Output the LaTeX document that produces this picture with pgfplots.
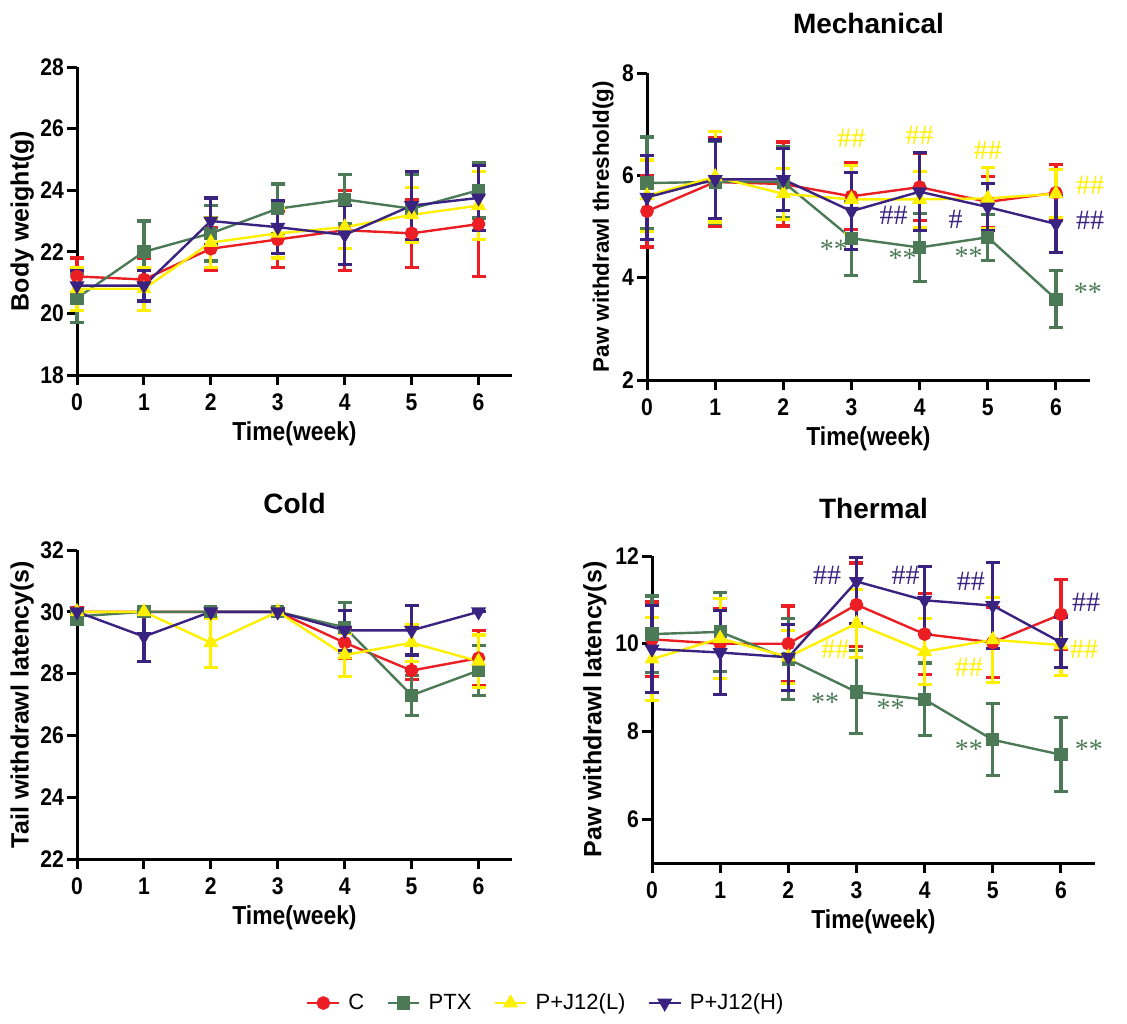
\documentclass[border=0pt]{standalone}
\usepackage{pgfplots}
\pgfplotsset{compat=1.18}
\usepackage{fontspec}
\setmainfont{Liberation Sans}
\newfontfamily\condfont[FakeStretch=0.88]{Liberation Sans}
\newfontfamily\annfont{Liberation Serif}

\definecolor{cC}{RGB}{235,30,36}
\definecolor{cP}{RGB}{76,122,86}
\definecolor{cL}{RGB}{255,240,0}
\definecolor{cH}{RGB}{58,34,128}

\tikzset{
  hash/.style={font=\annfont\fontsize{14}{15}\selectfont},
  star/.style={font=\annfont\fontsize{14}{15}\selectfont},
}

\pgfplotsset{
  gp/.style={
    scale only axis, clip=false,
    axis x line*=bottom, axis y line*=left,
    x axis line style={-}, y axis line style={-},
    axis line style={line width=1.5pt},
    xmin=0, xmax=6.5, xtick={0,...,6},
    tick align=outside, major tick length=5pt,
    tick style={line width=1.5pt, black},
    /pgf/number format/assume math mode=true,
    tick label style={font=\condfont\fontsize{12}{14}\selectfont\bfseries},
    xticklabel style={yshift=-1pt},
    yticklabel style={xshift=2pt},
    xlabel style={font=\condfont\fontsize{13}{15}\selectfont\bfseries},
    ylabel style={font=\fontsize{12.5}{15}\selectfont\bfseries},
    title style={font=\fontsize{14}{16}\selectfont\bfseries, anchor=center},
    xlabel={Time(week)},
    xlabel style={at={(axis description cs:0.5,-0.19)}, anchor=center},
  },
  sC/.style={cC, line width=1.2pt, mark=*, mark size=2.8pt,
    error bars/.cd, y dir=both, y explicit,
    error bar style={line width=1.6pt, cC},
    error mark options={line width=1.6pt, mark size=3.5pt, cC, rotate=90}},
  sP/.style={cP, line width=1.2pt, mark=square*, mark size=2.7pt,
    error bars/.cd, y dir=both, y explicit,
    error bar style={line width=1.6pt, cP},
    error mark options={line width=1.6pt, mark size=3.5pt, cP, rotate=90}},
  sL/.style={cL, line width=1.2pt, mark=triangle*, mark size=3.2pt,
    error bars/.cd, y dir=both, y explicit,
    error bar style={line width=1.6pt, cL},
    error mark options={line width=1.6pt, mark size=3.5pt, cL, rotate=90}},
  sH/.style={cH, line width=1.2pt, mark=triangle*, mark size=3.2pt, mark options={rotate=180},
    error bars/.cd, y dir=both, y explicit,
    error bar style={line width=1.6pt, cH},
    error mark options={line width=1.6pt, mark size=3.5pt, cH, rotate=90}},
}

\begin{document}
\begin{tikzpicture}
\useasboundingbox (0,0) rectangle (563.5pt,-511.5pt);

% Body weight
\begin{axis}[gp, at={(38.5pt,-187.5pt)}, anchor=south west,
  width=217.5pt, height=154pt,
  ymin=18, ymax=28, ytick={18,20,...,28},
  ylabel={Body weight(g)},
  ylabel style={at={(axis description cs:-0.126,0.5)}, anchor=center}]
\addplot[sC] coordinates {(0,21.2) +- (0,0.6) (1,21.1) +- (0,0.7) (2,22.1) +- (0,0.7) (3,22.4) +- (0,0.9) (4,22.7) +- (0,1.3) (5,22.6) +- (0,1.1) (6,22.9) +- (0,1.7)};
\addplot[sP] coordinates {(0,20.5) +- (0,0.8) (1,22.0) +- (0,1.0) (2,22.6) +- (0,0.9) (3,23.4) +- (0,0.8) (4,23.7) +- (0,0.8) (5,23.4) +- (0,1.1) (6,24.0) +- (0,0.9)};
\addplot[sL] coordinates {(0,20.8) +- (0,0.7) (1,20.8) +- (0,0.7) (2,22.3) +- (0,0.8) (3,22.6) +- (0,0.8) (4,22.8) +- (0,0.7) (5,23.2) +- (0,0.9) (6,23.5) +- (0,1.1)};
\addplot[sH] coordinates {(0,20.9) +- (0,0.5) (1,20.9) +- (0,0.5) (2,23.0) +- (0,0.75) (3,22.8) +- (0,0.85) (4,22.55) +- (0,0.95) (5,23.5) +- (0,1.1) (6,23.75) +- (0,1.05)};
\end{axis}

% Mechanical
\begin{axis}[gp, at={(323.5pt,-190pt)}, anchor=south west,
  width=221.5pt, height=153.5pt,
  ymin=2, ymax=8, ytick={2,4,6,8},
  title={Mechanical}, title style={at={(axis description cs:0.5,1)}, yshift=19pt},
  ylabel={Paw withdrawl threshold(g)},
  ylabel style={at={(axis description cs:-0.099,0.5)}, anchor=center,
    font=\fontsize{11.2}{13}\selectfont\bfseries}]
\addplot[sC] coordinates {(0,5.3) +- (0,0.7) (1,5.87) +- (0,0.87) (2,5.83) +- (0,0.82) (3,5.59) +- (0,0.65) (4,5.77) +- (0,0.65) (5,5.48) +- (0,0.5) (6,5.66) +- (0,0.55)};
\addplot[sP] coordinates {(0,5.85) +- (0,0.9) (1,5.87) +- (0,0.8) (2,5.87) +- (0,0.7) (3,4.77) +- (0,0.73) (4,4.59) +- (0,0.66) (5,4.79) +- (0,0.45) (6,3.58) +- (0,0.56)};
\addplot[sL] coordinates {(0,5.6) +- (0,0.7) (1,5.97) +- (0,0.88) (2,5.64) +- (0,0.5) (3,5.53) +- (0,0.67) (4,5.53) +- (0,0.55) (5,5.55) +- (0,0.6) (6,5.64) +- (0,0.47)};
\addplot[sH] coordinates {(0,5.57) +- (0,0.82) (1,5.92) +- (0,0.77) (2,5.92) +- (0,0.6) (3,5.3) +- (0,0.75) (4,5.68) +- (0,0.76) (5,5.38) +- (0,0.46) (6,5.05) +- (0,0.56)};
\node[hash, cL] at (axis cs:3,6.72) {\#\#};
\node[hash, cL] at (axis cs:4,6.78) {\#\#};
\node[hash, cL] at (axis cs:5,6.49) {\#\#};
\node[hash, cL] at (axis cs:6.5,5.81) {\#\#};
\node[hash, cH] at (axis cs:3.62,5.22) {\#\#};
\node[hash, cH] at (axis cs:4.53,5.14) {\#};
\node[hash, cH] at (axis cs:6.5,5.12) {\#\#};
\node[star, cP] at (axis cs:2.74,4.56) {**};
\node[star, cP] at (axis cs:3.75,4.38) {**};
\node[star, cP] at (axis cs:4.72,4.41) {**};
\node[star, cP] at (axis cs:6.47,3.72) {**};
\end{axis}

% Cold
\begin{axis}[gp, at={(38.5pt,-429.5pt)}, anchor=south west,
  width=217.5pt, height=154.5pt,
  ymin=22, ymax=32, ytick={22,24,...,32},
  title={Cold}, title style={at={(axis description cs:0.5,1)}, yshift=17.5pt},
  ylabel={Tail withdrawl latency(s)},
  ylabel style={at={(axis description cs:-0.126,0.5)}, anchor=center},
  legend style={at={(axis description cs:1.08,-0.466)}, anchor=center, draw=none,
    legend columns=4, font=\fontsize{11}{13}\selectfont,
    /tikz/every odd column/.append style={column sep=2pt},
    /tikz/every even column/.append style={column sep=9pt}},
  legend image code/.code={\draw[#1, mark repeat=2, mark phase=2] plot coordinates {(0cm,0cm) (0.28cm,0cm) (0.56cm,0cm)};}]
\addplot[sC] coordinates {(0,30) +- (0,0.15) (1,30) +- (0,0) (2,30) +- (0,0) (3,30) +- (0,0) (4,29.0) +- (0,0.5) (5,28.1) +- (0,0.3) (6,28.5) +- (0,0.9)};
\addplot[sP] coordinates {(0,29.85) +- (0,0.25) (1,30) +- (0,0) (2,30) +- (0,0) (3,30) +- (0,0.1) (4,29.5) +- (0,0.8) (5,27.3) +- (0,0.65) (6,28.1) +- (0,0.82)};
\addplot[sL] coordinates {(0,30) +- (0,0) (1,30) +- (0,0) (2,29.0) +- (0,0.8) (3,30) +- (0,0) (4,28.6) +- (0,0.7) (5,29.0) +- (0,0.6) (6,28.4) +- (0,0.85)};
\addplot[sH] coordinates {(0,30) +- (0,0) (1,29.2) +- (0,0.8) (2,30) +- (0,0) (3,30) +- (0,0) (4,29.4) +- (0,0.65) (5,29.4) +- (0,0.8) (6,30) +- (0,0)};
\legend{C, PTX, P+J12(L), P+J12(H)}
\end{axis}

% Thermal
\begin{axis}[gp, at={(326pt,-431.5pt)}, anchor=south west,
  width=221.5pt, height=153.5pt,
  ymin=5, ymax=12, ytick={6,8,10,12},
  title={Thermal}, title style={at={(axis description cs:0.5,1)}, yshift=18pt},
  ylabel={Paw withdrawl latency(s)},
  ylabel style={at={(axis description cs:-0.129,0.5)}, anchor=center}]
\addplot[sC] coordinates {(0,10.1) +- (0,0.85) (1,10.0) +- (0,0.8) (2,10.0) +- (0,0.86) (3,10.89) +- (0,0.95) (4,10.22) +- (0,0.92) (5,10.03) +- (0,0.8) (6,10.67) +- (0,0.8)};
\addplot[sP] coordinates {(0,10.22) +- (0,0.87) (1,10.27) +- (0,0.9) (2,9.65) +- (0,0.93) (3,8.9) +- (0,0.95) (4,8.73) +- (0,0.83) (5,7.81) +- (0,0.82) (6,7.47) +- (0,0.84)};
\addplot[sL] coordinates {(0,9.65) +- (0,0.95) (1,10.12) +- (0,0.92) (2,9.7) +- (0,0.6) (3,10.46) +- (0,0.78) (4,9.82) +- (0,0.75) (5,10.09) +- (0,0.97) (6,9.97) +- (0,0.7)};
\addplot[sH] coordinates {(0,9.88) +- (0,1.0) (1,9.8) +- (0,0.96) (2,9.69) +- (0,0.75) (3,11.42) += (0,0.55) -= (0,0.95) (4,10.99) +- (0,0.78) (5,10.87) +- (0,0.98) (6,10.03) +- (0,0.58)};
\node[hash, cH] at (axis cs:2.57,11.57) {\#\#};
\node[hash, cH] at (axis cs:3.72,11.55) {\#\#};
\node[hash, cH] at (axis cs:4.68,11.42) {\#\#};
\node[hash, cH] at (axis cs:6.37,10.95) {\#\#};
\node[hash, cL] at (axis cs:2.69,9.88) {\#\#};
\node[hash, cL] at (axis cs:4.65,9.46) {\#\#};
\node[hash, cL] at (axis cs:6.34,9.88) {\#\#};
\node[star, cP] at (axis cs:2.54,8.66) {**};
\node[star, cP] at (axis cs:3.5,8.53) {**};
\node[star, cP] at (axis cs:4.65,7.6) {**};
\node[star, cP] at (axis cs:6.41,7.6) {**};
\end{axis}
\end{tikzpicture}
\end{document}
